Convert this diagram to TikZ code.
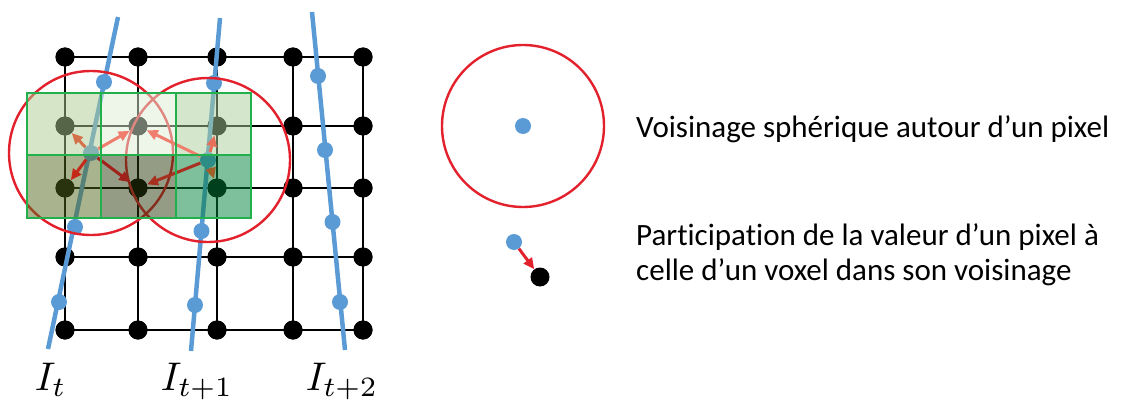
\documentclass[tikz,border=0pt]{standalone}
\usepackage{fontspec}
\setmainfont{Carlito}[Ligatures={NoCommon}]
\usetikzlibrary{arrows.meta}
\definecolor{bblue}{HTML}{5B9BD5}
\definecolor{rred}{HTML}{E3212D}
\definecolor{ggreen}{HTML}{22B04C}
\definecolor{cTL}{HTML}{ADC991}
\definecolor{cTM}{HTML}{DDEDD5}
\definecolor{cTR}{HTML}{A9CD99}
\definecolor{cBL}{HTML}{53691D}
\definecolor{cBM}{HTML}{2B390D}
\definecolor{cBR}{HTML}{008139}
\definecolor{aTL}{HTML}{D4704A}
\definecolor{aTM}{HTML}{F07E6E}
\definecolor{aBL}{HTML}{C42A1A}
\definecolor{aBM}{HTML}{A0221A}
\definecolor{aTR}{HTML}{E8705A}
\definecolor{aBR}{HTML}{A0602A}
\definecolor{aBMr}{HTML}{A83020}
\begin{document}
\begin{tikzpicture}[x=1pt,y=-1pt,
  vox/.style={circle, fill=black, inner sep=0pt, minimum size=19pt},
  pix/.style={circle, fill=bblue, inner sep=0pt, minimum size=16pt},
  gridline/.style={black, line width=1.4pt},
  blueline/.style={bblue, line width=4.5pt},
  ring/.style={circle, draw=rred, line width=2.4pt, inner sep=0pt, minimum size=164pt},
  arr/.style={-{Triangle[length=11pt,width=10pt]}, line width=3pt},
  cell/.style={fill opacity=0.5},
  txt/.style={anchor=base west, inner sep=0pt, font=\fontsize{31}{36}\selectfont},
  lab/.style={anchor=base west, inner sep=0pt, scale=4}]
\useasboundingbox (0,0) rectangle (1123,401);
% voxel grid
\foreach \x [count=\i] in {65,138,217,293,363}{
  \foreach \y [count=\j] in {57,126,188,257,330}{
    \node[vox] (v\i\j) at (\x,\y) {};
  }
}
\foreach \j in {1,...,5}{ \draw[gridline] (v1\j.center) -- (v5\j.center); }
\foreach \i in {1,...,5}{ \draw[gridline] (v\i1.center) -- (v\i5.center); }
\foreach \x [count=\i] in {65,138,217,293,363}{
  \foreach \y [count=\j] in {57,126,188,257,330}{
    \node[vox] at (\x,\y) {};
  }
}
% image lines
\coordinate (ta) at (118,17);  \coordinate (ba) at (48,349);
\coordinate (tb) at (220,18);  \coordinate (bb) at (191,351);
\coordinate (tc) at (312,12);  \coordinate (bc) at (345,350);
\draw[blueline] (ta) -- (ba);
\draw[blueline] (tb) -- (bb);
\draw[blueline] (tc) -- (bc);
\node[pix] (p11) at (104,82) {};
\node[pix] (p12) at (91,153) {};
\node[pix] (p13) at (75,227) {};
\node[pix] (p14) at (59,302) {};
\node[pix] (p21) at (214,83) {};
\node[pix] (p22) at (208,160) {};
\node[pix] (p23) at (201.5,231) {};
\node[pix] (p24) at (195,305) {};
\node[pix] (p31) at (318,76) {};
\node[pix] (p32) at (325,150) {};
\node[pix] (p33) at (332.5,222) {};
\node[pix] (p34) at (340,302) {};
% neighbourhoods
\node[ring] (c1) at (p12.center) {};
\node[ring] (c2) at (p22.center) {};
% green overlay
\fill[cTL, cell] (27,93) rectangle (101,155);
\fill[cTM, cell] (101,93) rectangle (176,155);
\fill[cTR, cell] (176,93) rectangle (251,155);
\fill[cBL, cell] (27,155) rectangle (101,218);
\fill[cBM, cell] (101,155) rectangle (176,218);
\fill[cBR, cell] (176,155) rectangle (251,218);
% contributions
\draw[arr, aTL] (p12) -- (v12);
\draw[arr, aTM] (p12) -- (v22);
\draw[arr, aBL] (p12) -- (v13);
\draw[arr, aBM] (p12) -- (v23);
\draw[arr, aTM] (p22) -- (v22);
\draw[arr, aTR] (p22) -- (v32);
\draw[arr, aBMr] (p22) -- (v23);
\draw[arr, aBR] (p22) -- (v33);
\draw[ggreen, line width=2.5pt] (27,93) rectangle (251,218);
\draw[ggreen, line width=2.5pt] (101,93) -- (101,218) (176,93) -- (176,218) (27,155) -- (251,155);
% labels
\node[lab] (L1) at (34,390) {$I_t$};
\node[lab] (L2) at (160,390) {$I_{t+1}$};
\node[lab] (L3) at (305,390) {$I_{t+2}$};
% legend
\node[ring, minimum size=162pt] (lc) at (523,126) {};
\node[pix] (lp) at (523,126) {};
\node[pix] (lp2) at (514,242) {};
\node[vox] (lv) at (540,277) {};
\draw[arr, rred] (lp2) -- (lv);
\node[txt] (t1) at (636,137) {Voisinage sphérique autour d’un pixel};
\node[txt] (t2) at (636,245) {Participation de la valeur d’un pixel à};
\node[txt] (t3) at (636,280) {celle d’un voxel dans son voisinage};
\end{tikzpicture}
\end{document}
